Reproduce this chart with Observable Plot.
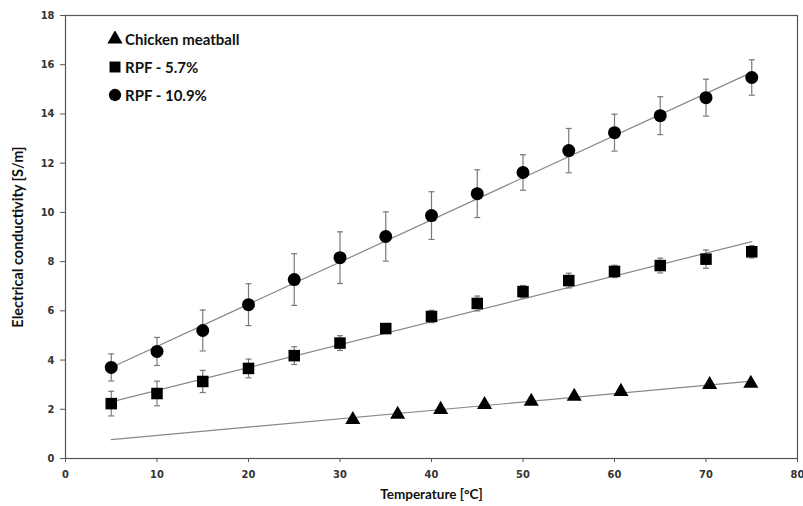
<!DOCTYPE html>
<html>
<head>
<meta charset="utf-8">
<script src="https://cdn.jsdelivr.net/npm/d3@7"></script>
<script src="https://cdn.jsdelivr.net/npm/@observablehq/plot@0.6"></script>
<style>
  html, body { margin: 0; padding: 0; background: #fff; }
  #wrap { position: relative; width: 803px; height: 506px; }
  #legend { position: absolute; left: 107px; top: 25px; font-family: Lato, sans-serif; font-weight: 700; font-size: 15px; color: #111; }
  #legend div { height: 28px; display: flex; align-items: center; }
  #legend svg { margin-right: 2px; }
</style>
</head>
<body>
<div id="wrap">
  <div id="chart"></div>
  <div id="legend"></div>
</div>
<script>
const temps = [5, 10, 15, 20, 25, 30, 35, 40, 45, 50, 55, 60, 65, 70, 75];
const rpf109 = [3.70, 4.35, 5.20, 6.25, 7.27, 8.16, 9.02, 9.87, 10.76, 11.62, 12.51, 13.24, 13.93, 14.66, 15.48];
const rpf109Err = [0.55, 0.57, 0.83, 0.85, 1.05, 1.05, 1.0, 0.97, 0.97, 0.72, 0.9, 0.75, 0.77, 0.75, 0.72];
const rpf57 = [2.23, 2.64, 3.13, 3.66, 4.18, 4.69, 5.28, 5.77, 6.30, 6.78, 7.23, 7.60, 7.84, 8.10, 8.40];
const rpf57Err = [0.5, 0.5, 0.45, 0.38, 0.36, 0.3, 0.2, 0.25, 0.3, 0.25, 0.3, 0.25, 0.3, 0.37, 0.25];
const chickenTemps = [31.4, 36.3, 41.0, 45.8, 50.9, 55.6, 60.7, 70.4, 74.9];
const chicken = [1.58, 1.79, 1.99, 2.19, 2.32, 2.52, 2.72, 3.00, 3.05];
const fitTemps = [5, 75];
const fitChicken = [0.77, 3.14];
const fit57 = [2.30, 8.81];
const fit109 = [3.70, 15.69];
const seriesNames = ["Chicken meatball", "RPF - 5.7%", "RPF - 10.9%"];
const xTicks = [0, 10, 20, 30, 40, 50, 60, 70, 80];
const yTicks = [0, 2, 4, 6, 8, 10, 12, 14, 16, 18];

const pts109 = temps.map((t, i) => ({t, v: rpf109[i], e: rpf109Err[i]}));
const pts57 = temps.map((t, i) => ({t, v: rpf57[i], e: rpf57Err[i]}));
const ptsCh = chickenTemps.map((t, i) => ({t, v: chicken[i]}));
const fits = [
  ...fitTemps.map((t, i) => ({s: seriesNames[0], t, v: fitChicken[i]})),
  ...fitTemps.map((t, i) => ({s: seriesNames[1], t, v: fit57[i]})),
  ...fitTemps.map((t, i) => ({s: seriesNames[2], t, v: fit109[i]}))
];
const errs = [...pts109, ...pts57];
const caps = errs.flatMap(d => [{t: d.t, v: d.v + d.e}, {t: d.t, v: d.v - d.e}]);
const capSymbol = { draw(ctx, size) { ctx.moveTo(-3, 0); ctx.lineTo(3, 0); } };

const chart = Plot.plot({
  width: 803,
  height: 506,
  marginLeft: 65,
  marginRight: 6,
  marginTop: 15,
  marginBottom: 48,
  style: { fontFamily: "'DejaVu Sans Condensed', 'DejaVu Sans', sans-serif", fontSize: "11px", fontWeight: "bold", color: "#333", background: "#fff" },
  x: { domain: [0, 80], ticks: xTicks, tickSize: 4, tickPadding: 8, label: null },
  y: { domain: [0, 18], ticks: yTicks, tickSize: 5, tickPadding: 7, label: null },
  marks: [
    Plot.frame({ stroke: "#555", strokeWidth: 1.2 }),
    Plot.line(fits, { x: "t", y: "v", z: "s", stroke: "#888", strokeWidth: 1.2 }),
    Plot.ruleX(errs, { x: "t", y1: d => d.v - d.e, y2: d => d.v + d.e, stroke: "#7a7a7a", strokeWidth: 1.2 }),
    Plot.dot(caps, { x: "t", y: "v", symbol: capSymbol, stroke: "#7a7a7a", strokeWidth: 1.2, fill: "none" }),
    Plot.dot(pts109, { x: "t", y: "v", symbol: "circle", r: 6.5, fill: "#000" }),
    Plot.dot(pts57, { x: "t", y: "v", symbol: "square", r: 6.5, fill: "#000" }),
    Plot.dot(ptsCh, { x: "t", y: "v", symbol: "triangle", r: 5.6, fill: "#000" }),
    Plot.axisX({ ticks: xTicks, tickSize: 4, tickPadding: 8, stroke: "#555" }),
    Plot.axisY({ ticks: yTicks, tickSize: 5, tickPadding: 6, stroke: "#555" }),
    Plot.text(["Temperature [°C]"], { frameAnchor: "bottom", dy: 40, textAnchor: "middle", fontSize: 13.5, fontWeight: "bold", fill: "#111", fontFamily: "Lato, sans-serif" }),
    Plot.text(["Electrical conductivity [S/m]"], { frameAnchor: "left", dx: -47, textAnchor: "middle", rotate: -90, fontSize: 14.5, fontWeight: "bold", fill: "#111", fontFamily: "Lato, sans-serif" })
  ]
});
document.getElementById("chart").appendChild(chart);

const legend = document.getElementById("legend");
const legendSymbols = [d3.symbolTriangle, d3.symbolSquare, d3.symbolCircle];
seriesNames.forEach((name, i) => {
  const row = document.createElement("div");
  const svg = d3.create("svg").attr("width", 16).attr("height", 16);
  svg.append("path")
    .attr("transform", "translate(8,8)")
    .attr("d", d3.symbol(legendSymbols[i], i === 0 ? 100 : 120)())
    .attr("fill", "#000");
  row.appendChild(svg.node());
  row.appendChild(document.createTextNode(name));
  legend.appendChild(row);
});
</script>
</body>
</html>
